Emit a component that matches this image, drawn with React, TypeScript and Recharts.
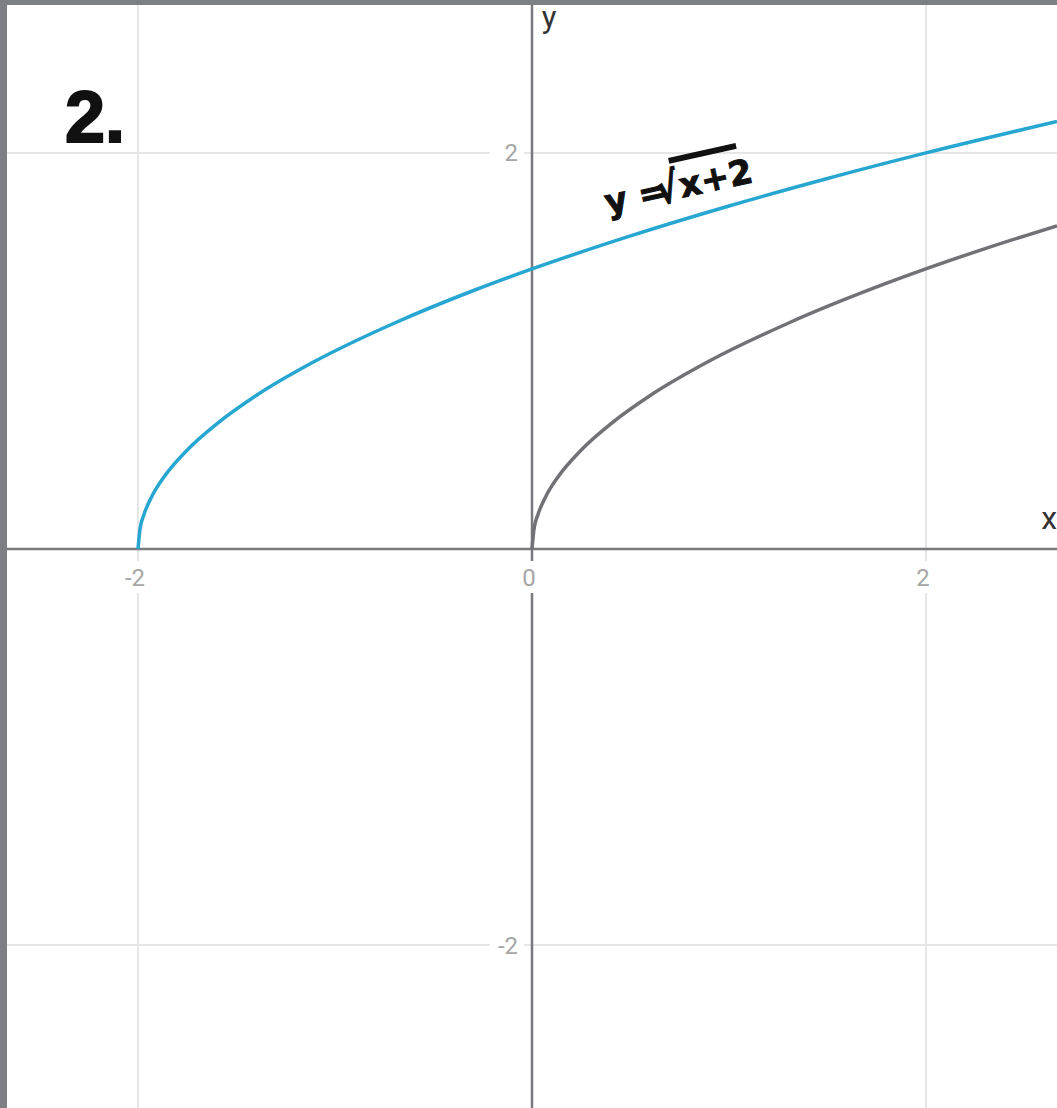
import { LineChart, Line, XAxis, YAxis, ReferenceLine, ReferenceDot } from 'recharts';

// y = sqrt(x + 2), shifted curve (blue)
const shiftedX = [-2, -1.99, -1.97, -1.93, -1.87, -1.75, -1.6, -1.4, -1.1, -0.7, -0.3, 0, 0.5, 1, 1.5, 2, 2.665];
const shiftedY = [0, 0.1, 0.173, 0.265, 0.361, 0.5, 0.632, 0.775, 0.949, 1.14, 1.304, 1.414, 1.581, 1.732, 1.871, 2.0, 2.159];

// y = sqrt(x), parent curve (gray)
const parentX = [0, 0.01, 0.03, 0.07, 0.13, 0.25, 0.4, 0.6, 0.9, 1.3, 1.8, 2.3, 2.665];
const parentY = [0, 0.1, 0.173, 0.265, 0.361, 0.5, 0.632, 0.775, 0.949, 1.14, 1.342, 1.517, 1.632];

const gridX = [-2, 2];
const gridY = [-2, 2];
const xTickLabels = ['-2', '0', '2'];
const xTickValues = [-2, 0, 2];
const yTickLabels = ['2', '-2'];
const yTickValues = [2, -2];

const X_DOMAIN: [number, number] = [-2.665, 2.665];
const Y_DOMAIN: [number, number] = [-2.823, 2.747];

const shiftedData = shiftedX.map((x, i) => ({ x, y: shiftedY[i] }));
const parentData = parentX.map((x, i) => ({ x, y: parentY[i] }));

const tickFont = { fontFamily: 'Roboto, sans-serif', fontSize: 24, fill: '#a6a6a6' };

const XTick = (props: any) => {
  const { cx, cy, text } = props;
  return (
    <g>
      <rect x={cx - 18} y={cy + 12} width={36} height={32} fill="#fff" />
      <text x={cx - 3} y={cy + 37} textAnchor="middle" {...tickFont}>{text}</text>
    </g>
  );
};

const YTick = (props: any) => {
  const { cx, cy, text } = props;
  return (
    <g>
      <rect x={cx - 42} y={cy - 15} width={34} height={30} fill="#fff" />
      <text x={cx - 14} y={cy + 8.5} textAnchor="end" {...tickFont}>{text}</text>
    </g>
  );
};

const PlainText = (props: any) => {
  const { cx, cy, text, style } = props;
  return <text x={cx} y={cy} {...style}>{text}</text>;
};

// rotated formula label with a bar over the radicand
const Formula = (props: any) => {
  const { cx, cy } = props;
  const font = {
    fontFamily: '"DejaVu Sans", sans-serif', fontWeight: 700, fontSize: 34,
    fill: '#111', stroke: '#111', strokeWidth: 1,
  };
  return (
    <g transform={`rotate(-12.5 ${cx} ${cy})`}>
      <text x={cx} y={cy} {...font}>y =</text>
      <text transform={`translate(${cx + 52} ${cy + 2}) scale(1 1.22)`} {...font}>√</text>
      <line x1={cx + 71} y1={cy - 39} x2={cx + 140} y2={cy - 39} stroke="#111" strokeWidth={6} />
      <text x={cx + 76} y={cy} {...font}>x+2</text>
    </g>
  );
};

export default function App() {
  return (
    <div style={{ position: 'absolute', left: 0, top: 0, width: 1057, height: 1108, background: '#7c7f84' }}>
      <div style={{ position: 'absolute', left: 7, top: 5, width: 1050, height: 1103, background: '#fff' }} />
      <div style={{ position: 'absolute', left: 0, top: 0 }}>
        <LineChart width={1057} height={1108} margin={{ top: 5, right: 0, bottom: 0, left: 7 }}>
          <XAxis type="number" dataKey="x" domain={X_DOMAIN} hide allowDataOverflow />
          <YAxis type="number" dataKey="y" domain={Y_DOMAIN} hide allowDataOverflow />

          {gridX.map((v) => (
            <ReferenceLine key={`gx${v}`} x={v} stroke="#e6e6e6" strokeWidth={2} />
          ))}
          {gridY.map((v) => (
            <ReferenceLine key={`gy${v}`} y={v} stroke="#e6e6e6" strokeWidth={2} />
          ))}

          {xTickValues.map((v, i) => (
            <ReferenceDot key={`xt${v}`} x={v} y={0} r={0}
              shape={(p: any) => <XTick {...p} text={xTickLabels[i]} />} />
          ))}
          {yTickValues.map((v, i) => (
            <ReferenceDot key={`yt${v}`} x={0} y={v} r={0}
              shape={(p: any) => <YTick {...p} text={yTickLabels[i]} />} />
          ))}

          <ReferenceLine x={0} stroke="#7a7a7e" strokeWidth={2.5} />
          <ReferenceLine y={0} stroke="#7a7a7e" strokeWidth={2.5} />

          <Line data={parentData} dataKey="y" type="monotone" stroke="#727176"
            strokeWidth={3.5} dot={false} isAnimationActive={false} />
          <Line data={shiftedData} dataKey="y" type="monotone" stroke="#26a6d1"
            strokeWidth={3.5} dot={false} isAnimationActive={false} />

          <ReferenceDot x={0.05} y={2.63} r={0}
            shape={(p: any) => (
              <PlainText {...p} text="y"
                style={{ fontFamily: 'Roboto, sans-serif', fontSize: 31, fill: '#333' }} />
            )} />
          <ReferenceDot x={2.585} y={0.1} r={0}
            shape={(p: any) => (
              <PlainText {...p} text="x"
                style={{ fontFamily: 'Roboto, sans-serif', fontSize: 32, fill: '#333' }} />
            )} />
          <ReferenceDot x={-2.371} y={2.056} r={0}
            shape={(p: any) => (
              <PlainText {...p} text="2."
                style={{
                  fontFamily: '"Liberation Sans", Arial, sans-serif', fontWeight: 700, fontSize: 72,
                  fill: '#111', stroke: '#111', strokeWidth: 2,
                }} />
            )} />
          <ReferenceDot x={0.385} y={1.69} r={0} shape={(p: any) => <Formula {...p} />} />
        </LineChart>
      </div>
    </div>
  );
}
